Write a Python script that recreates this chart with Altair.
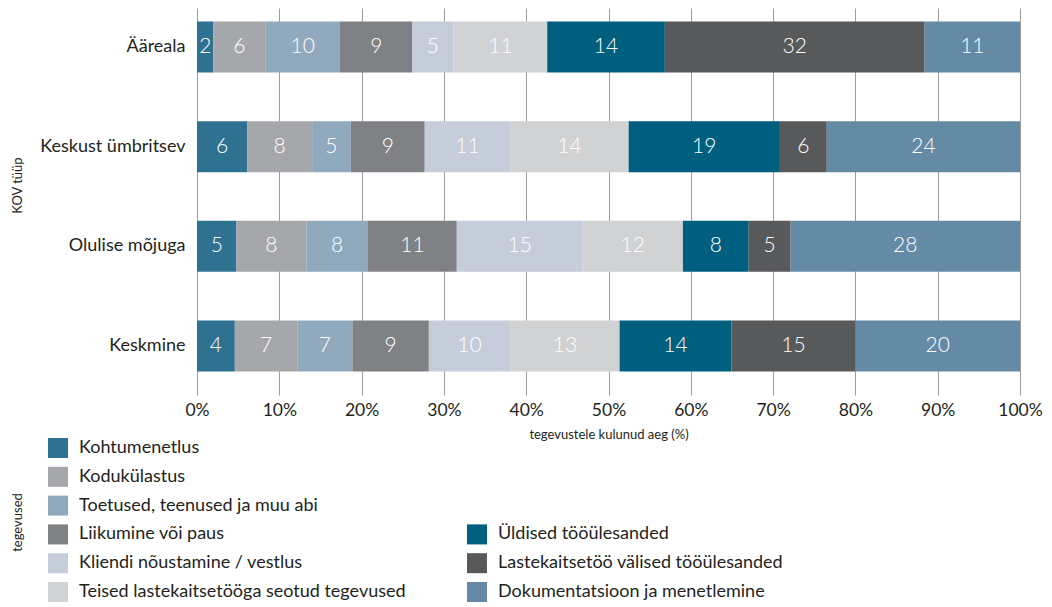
import altair as alt
import pandas as pd

kov_types = ["Ääreala", "Keskust ümbritsev", "Olulise mõjuga", "Keskmine"]

activities = [
    "Kohtumenetlus",
    "Kodukülastus",
    "Toetused, teenused ja muu abi",
    "Liikumine või paus",
    "Kliendi nõustamine / vestlus",
    "Teised lastekaitsetööga seotud tegevused",
    "Üldised tööülesanded",
    "Lastekaitsetöö välised tööülesanded",
    "Dokumentatsioon ja menetlemine",
]

colors = ["#2f7191", "#a6a7aa", "#91a9bc", "#808184", "#c4cdd9",
          "#d1d2d4", "#005e7e", "#58595b", "#658aa5"]

# segment shares (%)
share_aareala = [2.0, 6.3, 9.1, 8.8, 5.0, 11.4, 14.3, 31.6, 11.6]
share_keskust = [6.1, 7.9, 4.7, 9.0, 10.4, 14.4, 18.4, 5.7, 23.5]
share_olulise = [4.8, 8.5, 7.5, 10.8, 15.3, 12.2, 8.0, 5.1, 27.9]
share_keskmine = [4.6, 7.6, 6.7, 9.3, 9.9, 13.3, 13.6, 15.1, 20.0]

# printed labels
label_aareala = [2, 6, 10, 9, 5, 11, 14, 32, 11]
label_keskust = [6, 8, 5, 9, 11, 14, 19, 6, 24]
label_olulise = [5, 8, 8, 11, 15, 12, 8, 5, 28]
label_keskmine = [4, 7, 7, 9, 10, 13, 14, 15, 20]

x_ticks = [0, 0.1, 0.2, 0.3, 0.4, 0.5, 0.6, 0.7, 0.8, 0.9, 1.0]

rows = []
for kov, shares, labels in zip(
    kov_types,
    [share_aareala, share_keskust, share_olulise, share_keskmine],
    [label_aareala, label_keskust, label_olulise, label_keskmine],
):
    for i, (a, s, l) in enumerate(zip(activities, shares, labels)):
        rows.append({"kov": kov, "activity": a, "order": i, "share": s, "label": str(l)})
df = pd.DataFrame(rows)

TXT = "#231f20"
FONT = "Lato"

color_scale = alt.Scale(domain=activities, range=colors)

base = alt.Chart(df).transform_stack(
    stack="share",
    groupby=["kov"],
    sort=[alt.SortField("order", order="ascending")],
    as_=["s0", "s1"],
    offset="normalize",
).transform_calculate(mid="(datum.s0 + datum.s1) / 2")

y_enc = alt.Y(
    "kov:N",
    sort=kov_types,
    scale=alt.Scale(paddingInner=0.488, paddingOuter=0.186, align=0.365),
    axis=alt.Axis(
        title="KOV tüüp", domain=False, ticks=False, grid=False,
        labelFontSize=18, labelColor=TXT, labelPadding=12, labelFont=FONT,
        titleFontSize=13, titleFontWeight="normal", titleColor=TXT, titleFont=FONT,
        titleX=-173, titleY=177,
    ),
)

bars = base.mark_bar().encode(
    x=alt.X(
        "s0:Q",
        scale=alt.Scale(domain=[0, 1], nice=False),
        axis=alt.Axis(
            values=x_ticks, format="%", title="tegevustele kulunud aeg (%)",
            domain=False, ticks=False, grid=True, gridColor="#9d9d9d", gridWidth=1,
            labelFontSize=17.5, labelColor=TXT, labelPadding=6, labelFont=FONT,
            labelFlush=False,
            titleFontSize=13, titleFontWeight="normal", titleColor=TXT, titleFont=FONT,
            titlePadding=10,
        ),
    ),
    x2="s1:Q",
    y=y_enc,
    color=alt.Color("activity:N", scale=color_scale, legend=None),
)

labels_layer = base.mark_text(color="white", fontSize=21, font=FONT, fontWeight=300).encode(
    x="mid:Q",
    y=alt.Y("kov:N", sort=kov_types),
    text="label:N",
)

main = alt.layer(bars, labels_layer).properties(width=823, height=387)

leg_df = pd.DataFrame({"activity": activities, "idx": list(range(len(activities)))})
leg_base = alt.Chart(leg_df).transform_calculate(
    col="datum.idx < 6 ? 0 : 1",
    row="datum.idx < 6 ? datum.idx : datum.idx - 3",
)
leg_x = alt.X("col:Q", scale=alt.Scale(domain=[0, 1], range=[-139, 280]), axis=None)
leg_y = alt.Y(
    "row:Q",
    scale=alt.Scale(domain=[0, 5], range=[33, 177]),
    axis=alt.Axis(
        title="tegevused", labels=False, ticks=False, domain=False, grid=False,
        titleFontSize=13, titleFontWeight="normal", titleColor=TXT, titleFont=FONT,
        titleX=-173, titleY=107,
    ),
)
leg_sq = leg_base.mark_square(size=400, opacity=1).encode(
    x=leg_x, y=leg_y,
    color=alt.Color("activity:N", scale=color_scale, legend=None),
)
leg_txt = leg_base.mark_text(align="left", dx=21, fontSize=18, font=FONT, color=TXT).encode(
    x=leg_x, y=leg_y, text="activity:N",
)
legend = alt.layer(leg_sq, leg_txt).properties(width=823, height=170)

chart = alt.vconcat(main, legend, spacing=20, bounds="flush").properties(
    padding={"left": 3, "top": 0, "right": 0, "bottom": 0}
).configure(font=FONT).configure_view(stroke=None)

chart.save("out.html", embed_options={"renderer": "svg", "actions": False})
